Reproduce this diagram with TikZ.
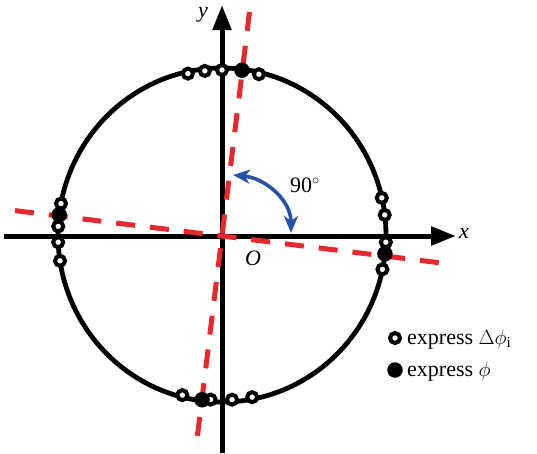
\documentclass[tikz,border=0pt]{standalone}
\usepackage{fontspec}
\setmainfont{Liberation Serif}
\usetikzlibrary{arrows.meta}
\definecolor{dashred}{RGB}{232,40,45}
\definecolor{arcblue}{RGB}{40,82,168}
\tikzset{
  axisline/.style={line width=5pt, black, -{Triangle[length=25pt,width=18pt]}},
  ringline/.style={line width=4.8pt, black},
  reddash/.style={line width=5pt, dashred, dash pattern=on 19pt off 15pt},
  bluearc/.style={line width=3.6pt, arcblue, {Stealth[length=17pt,width=14pt,inset=5pt]}-{Stealth[length=17pt,width=14pt,inset=5pt]}},
  openmark/.style={circle, draw=black, line width=4pt, fill=white, inner sep=0pt, minimum size=10pt},
  fullmark/.style={circle, fill=black, inner sep=0pt, minimum size=15.5pt},
  lbl/.style={font=\fontsize{22}{26}\selectfont, inner sep=0pt},
}
\begin{document}
\begin{tikzpicture}[x=1pt,y=-1pt]
\useasboundingbox (0,0) rectangle (537,453);
\fill[white] (0,0) rectangle (537,453);
\coordinate (C) at (222,235);
\coordinate (O) at (222,236);
% circle
\draw[ringline] (C) ellipse [x radius=164pt, y radius=167pt];
% axes
\coordinate (xl) at (4,236);
\coordinate (xr) at (456,236);
\coordinate (yb) at (222,453);
\coordinate (yt) at (222,5);
\draw[axisline] (xl) -- (xr);
\draw[axisline] (yb) -- (yt);
% red dashed lines
\coordinate (rU) at (249.5,12);
\coordinate (rD) at (196.8,441);
\coordinate (rL) at (15,210.6);
\coordinate (rR) at (444,263.3);
\draw[reddash] (rU) -- (rD);
\draw[reddash] (rL) -- (rR);
% blue arc
\coordinate (b1) at (233,175);
\coordinate (b2) at (291,233);
\coordinate (bc1) at (265,178);
\coordinate (bc2) at (291,200);
\draw[bluearc] (b1) .. controls (bc1) and (bc2) .. (b2);
% markers
\foreach \a [count=\i] in {102,96,90,77,169,177,182.5,189,13,7,-2.5,-12,256,266,273.5,280.6}
  \node[openmark] (om\i) at ({222+164*cos(\a)},{235-165*sin(\a)}) {};
\foreach \a [count=\i] in {83,173,-6.5,263}
  \node[fullmark] (fm\i) at ({222+164*cos(\a)},{235-166*sin(\a)}) {};
% labels
\node[lbl] (ly) at (203,15) {\textit{y}};
\node[lbl] (lx) at (464,233) {\textit{x}};
\node[lbl] (lo) at (253,258) {\textit{O}};
\node[lbl] (l90) at (305,185) {90$^\circ$};
% legend
\node[openmark] (lgo) at (395,338) {};
\node[fullmark] (lgf) at (395,370) {};
\node[lbl, anchor=base west] (lgt1) at (407,344) {express $\Delta\phi_{\mathrm{i}}$};
\node[lbl, anchor=base west] (lgt2) at (407,376) {express $\phi$};
\end{tikzpicture}
\end{document}
